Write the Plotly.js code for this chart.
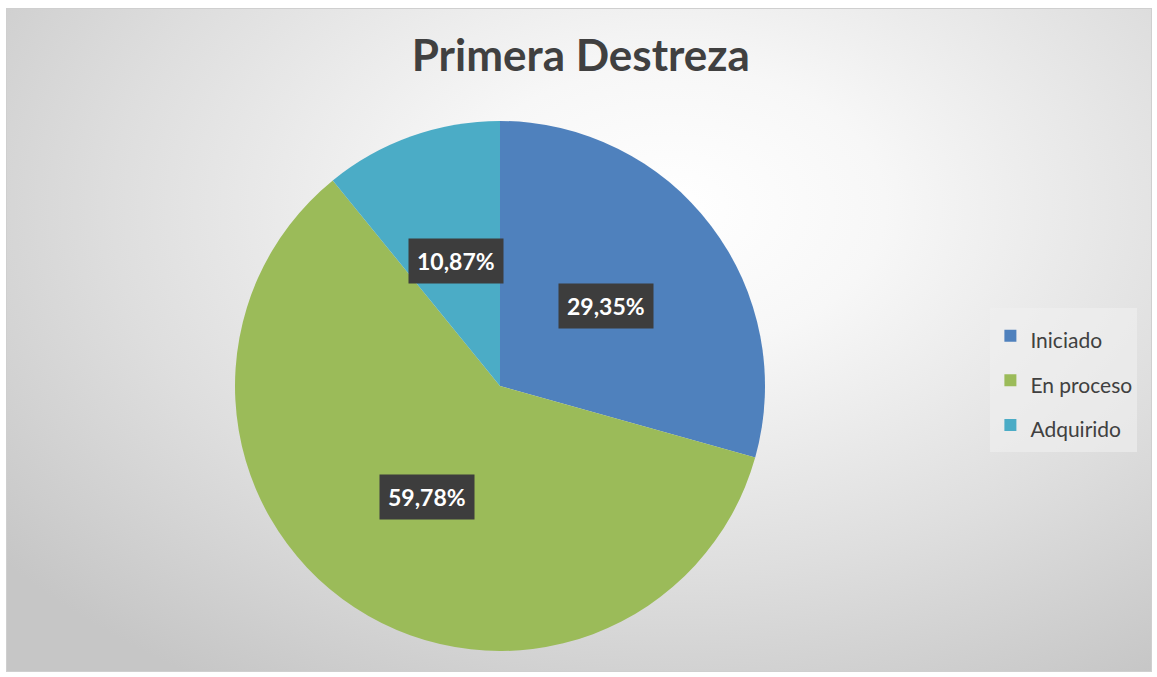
<!DOCTYPE html>
<html>
<head>
<meta charset="utf-8">
<script src="https://cdn.plot.ly/plotly-3.0.1.min.js"></script>
<style>
  html, body { margin:0; padding:0; background:#ffffff; }
  #frame { position:absolute; left:6px; top:8px; width:1144px; height:662px;
    border:1px solid #cfcfcf;
    background: radial-gradient(ellipse 75% 85% at 58% 30%, #ffffff 0%, #f7f7f7 25%, #dedede 65%, #c6c6c6 100%); }
  #chart { position:absolute; left:0; top:0; width:1157px; height:677px; }
</style>
</head>
<body>
<div id="frame"></div>
<div id="chart"></div>
<script>
const categories = ["Iniciado", "En proceso", "Adquirido"];
const counts = [27, 55, 10];
const colors = ["#4F81BD", "#9BBB59", "#4BACC6"];
const chartTitle = "Primera Destreza";

const W = 1157, H = 677;
const cx = 500, cy = 386, R = 265;
const domX = [(cx - R) / W, (cx + R) / W];
const domY = [(H - cy - R) / H, (H - cy + R) / H];

const total = counts.reduce((a, b) => a + b, 0);
const fmt = v => (v / total * 100).toFixed(2).replace('.', ',') + '%';

const annotations = [];
let cum = 0;
counts.forEach((v, i) => {
  const mid = (cum + v / 2) / total * 2 * Math.PI;
  cum += v;
  const px = cx + 0.5 * R * Math.sin(mid);
  const py = cy - 0.5 * R * Math.cos(mid);
  annotations.push({
    x: px / W, y: 1 - py / H, xref: 'paper', yref: 'paper',
    text: '<b>' + fmt(v) + '</b>', showarrow: false,
    font: { family: 'Lato, "Open Sans", sans-serif', size: 23, color: '#ffffff' },
    bgcolor: '#3d3d3d', borderpad: 8, xanchor: 'center', yanchor: 'middle'
  });
});

const trace = {
  type: 'pie',
  labels: categories.map(c => '<span style="font-size:21px">' + c + '</span>'),
  values: counts,
  marker: { colors: colors, line: { width: 0 } },
  sort: false,
  direction: 'clockwise',
  rotation: 0,
  textinfo: 'none',
  hoverinfo: 'label+percent',
  domain: { x: domX, y: domY }
};

const layout = {
  width: W, height: H,
  margin: { l: 0, r: 0, t: 0, b: 0 },
  paper_bgcolor: 'rgba(0,0,0,0)',
  plot_bgcolor: 'rgba(0,0,0,0)',
  title: { text: '<b>' + chartTitle + '</b>', x: 0.502, xanchor: 'center', y: 0.918, yanchor: 'middle',
    font: { family: 'Lato, "Open Sans", sans-serif', size: 44, color: '#404040' } },
  showlegend: true,
  legend: {
    x: 0.856, y: 0.438, xanchor: 'left', yanchor: 'middle',
    bgcolor: 'rgba(240,240,240,0.6)',
    font: { family: 'Lato, "Open Sans", sans-serif', size: 32, color: '#404040' },
    itemwidth: 30,
    itemclick: false
  },
  annotations: annotations
};

Plotly.newPlot('chart', [trace], layout, { displayModeBar: false, staticPlot: true });
</script>
</body>
</html>
